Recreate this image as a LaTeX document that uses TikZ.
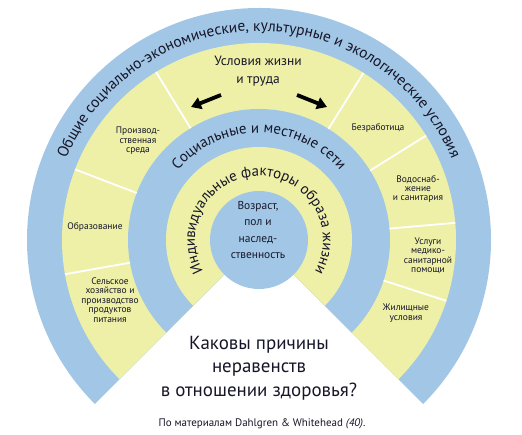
\documentclass[tikz,border=0pt]{standalone}
\usepackage{fontspec}
\setmainfont{PT Sans}
\usepackage{tikz}
\usetikzlibrary{arrows.meta, positioning, calc, decorations.text}
\definecolor{ringBlue}{RGB}{162,199,230}
\definecolor{ringYellow}{RGB}{238,240,168}
\definecolor{labelInk}{RGB}{22,22,40}
\newcommand{\rOuter}{232bp}
\newcommand{\rLiving}{197bp}
\newcommand{\rSocial}{131bp}
\newcommand{\rIndiv}{93bp}
\newcommand{\rCore}{49bp}

\begin{document}
\begin{tikzpicture}[
        x=1bp, y=1bp,
        seglabel/.style={align=center, font=\fontsize{9.5}{9.5}\selectfont, text=labelInk, inner sep=0pt},
        divider/.style={white, line width=1.8bp},
        arrow/.style={-{Triangle[length=10bp, width=12bp]}, line width=3.8bp},
        ringtext/.style={decorate, decoration={text along path, text align=center, text color=labelInk}}
    ]
        \useasboundingbox (0,0) rectangle (522,435);
        \coordinate (c) at (259,195);

        % Rings, cut open at the bottom
        \fill[ringBlue] (c) -- ($(c)+(-45:\rOuter)$) arc[start angle=-45, end angle=225, radius=\rOuter] -- cycle;
        \fill[ringYellow] (c) -- ($(c)+(-45:\rLiving)$) arc[start angle=-45, end angle=225, radius=\rLiving] -- cycle;
        \fill[ringBlue] (c) -- ($(c)+(-45:\rSocial)$) arc[start angle=-45, end angle=225, radius=\rSocial] -- cycle;
        \fill[ringYellow] (c) -- ($(c)+(-45:\rIndiv)$) arc[start angle=-45, end angle=225, radius=\rIndiv] -- cycle;
        \fill[ringBlue] (c) circle[radius=\rCore];

        % Dividers of the living and working conditions ring
        \foreach \a in {121.5, 159, 190, 58, 32, 5, -18}
            \draw[divider] ($(c)+(\a:\rSocial)$) -- ($(c)+(\a:\rLiving)$);

        % Curved ring titles
        \path[ringtext, decoration={text={|\fontsize{15.5}{15.5}\selectfont|Общие социально-экономические, культурные и экологические условия}}]
            ($(c)+(175:209bp)$) arc[start angle=175, end angle=5, radius=209bp];
        \path[ringtext, decoration={text={|\fontsize{15}{15}\selectfont|Социальные и местные сети}}]
            ($(c)+(170:107bp)$) arc[start angle=170, end angle=10, radius=107bp];
        \path[ringtext, decoration={text={|\fontsize{15}{15}\selectfont|Индивидуальные факторы образа жизни}}]
            ($(c)+(230:64bp)$) arc[start angle=230, end angle=-50, radius=64bp];

        % Living and working conditions
        \node[align=center, font=\fontsize{13.5}{18}\selectfont, text=labelInk] (work) at (258,364) {Условия жизни\\и труда};
        \coordinate (leftTail) at (221,340);
        \coordinate (leftTip) at (191,328);
        \coordinate (rightTail) at (297,340);
        \coordinate (rightTip) at (327,328);
        \draw[arrow] (leftTail) -- (leftTip);
        \draw[arrow] (rightTail) -- (rightTip);

        \node[seglabel] (prodEnv) at (138,294) {Производ-\\ственная\\среда};
        \node[seglabel] (education) at (95,208) {Образование};
        \node[seglabel] (agriculture) at (110,135) {Сельское\\хозяйство и\\производство\\продуктов\\питания};
        \node[seglabel] (unemployment) at (378,307) {Безработица};
        \node[seglabel] (water) at (418,246) {Водоснаб-\\жение\\и санитария};
        \node[seglabel] (health) at (428,179) {Услуги\\медико-\\санитарной\\помощи};
        \node[seglabel] (housing) at (406,122) {Жилищные\\условия};

        % Core
        \node[align=center, font=\fontsize{11.5}{16.7}\selectfont, text=labelInk] (core) at (258,205) {Возраст,\\пол и\\наслед-\\ственность};

        % Question and source
        \node[align=center, font=\fontsize{19}{23.5}\selectfont, text=labelInk] (question) at (259,67) {Каковы причины\\неравенств\\в отношении здоровья?};
        \node[font=\fontsize{11}{12}\selectfont, text=labelInk] (source) at (262,11) {По материалам Dahlgren \& Whitehead \textit{(40)}.};
    \end{tikzpicture}
\end{document}
